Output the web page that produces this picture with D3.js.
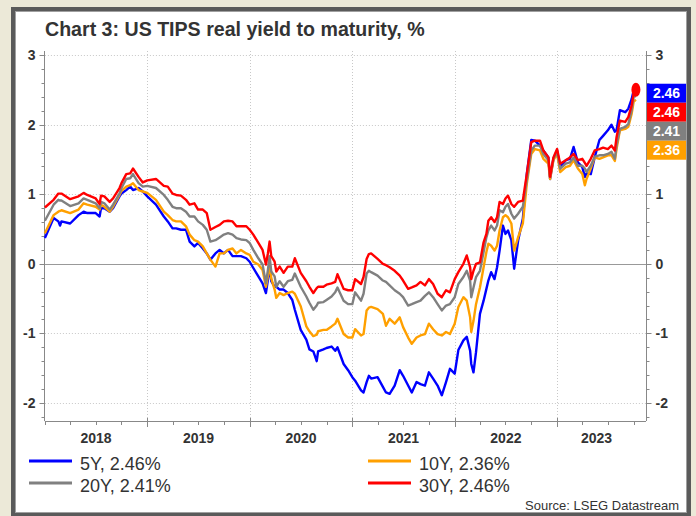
<!DOCTYPE html>
<html>
<head>
<meta charset="utf-8">
<script src="https://cdn.jsdelivr.net/npm/d3@7"></script>
<style>
  body { margin: 0; background: #ece9d8; }
  svg { display: block; font-family: "Liberation Sans", Arial, sans-serif; }
</style>
</head>
<body>
<div id="chart"></div>
<script>
const dates = [
  "2018-01-01","2018-02-01","2018-02-18","2018-02-24","2018-03-01","2018-04-01","2018-05-01","2018-05-19","2018-06-01","2018-07-01",
  "2018-07-15","2018-07-20","2018-08-01","2018-08-20","2018-09-01","2018-09-24","2018-10-01","2018-10-18","2018-11-01","2018-11-11",
  "2018-12-01","2018-12-16","2019-01-01","2019-02-01","2019-03-01","2019-03-15","2019-04-01","2019-04-14","2019-05-01","2019-05-19",
  "2019-06-01","2019-06-18","2019-07-01","2019-07-18","2019-08-01","2019-08-14","2019-09-01","2019-09-16","2019-10-01","2019-10-16",
  "2019-11-01","2019-11-15","2019-12-01","2019-12-20","2020-01-01","2020-01-14","2020-02-01","2020-02-16","2020-02-28","2020-03-06",
  "2020-03-12","2020-03-18","2020-03-30","2020-04-05","2020-04-17","2020-05-01","2020-05-16","2020-06-01","2020-06-10","2020-07-01",
  "2020-07-21","2020-08-01","2020-08-15","2020-08-27","2020-09-01","2020-09-20","2020-10-01","2020-10-19",
  "2020-11-01","2020-11-09","2020-12-01","2020-12-17","2021-01-01","2021-01-11","2021-02-01","2021-02-10","2021-02-21","2021-03-01",
  "2021-03-09","2021-04-01","2021-04-20","2021-05-01","2021-05-14","2021-06-01","2021-06-19","2021-07-01","2021-07-19","2021-08-01",
  "2021-08-18","2021-09-01","2021-09-17","2021-10-01","2021-10-16","2021-11-01","2021-11-16","2021-12-01","2021-12-15","2022-01-01",
  "2022-01-14","2022-02-01","2022-02-13","2022-02-25","2022-03-01","2022-03-09","2022-03-18","2022-04-01","2022-04-14","2022-04-24",
  "2022-05-01","2022-05-11","2022-05-23","2022-06-01","2022-06-10","2022-06-22","2022-07-01","2022-07-10","2022-07-22","2022-08-01",
  "2022-08-15","2022-09-01","2022-09-15","2022-10-01","2022-10-14","2022-11-01","2022-11-13","2022-12-01","2022-12-07","2022-12-19",
  "2023-01-01","2023-01-12","2023-02-01","2023-02-16","2023-03-01","2023-03-16","2023-04-01","2023-04-10","2023-04-16","2023-05-01",
  "2023-05-15","2023-06-01","2023-06-14","2023-07-01","2023-07-14","2023-07-26","2023-08-01","2023-08-13","2023-09-01","2023-09-12",
  "2023-09-24","2023-10-01","2023-10-09"
];

const y5 = [
  0.37,0.66,0.61,0.55,0.61,0.58,0.70,0.75,0.73,0.73, 0.68,0.80,0.80,0.75,0.80,0.97,1.01,1.06,1.11,1.06,
  1.09,1.04,0.97,0.85,0.68,0.61,0.51,0.51,0.49,0.49, 0.32,0.25,0.30,0.22,0.15,0.06,0.15,0.20,0.15,0.20,
  0.11,0.11,0.11,0.08,0.03,-0.06,-0.18,-0.28,-0.42,-0.23, -0.01,-0.25,-0.33,-0.33,-0.37,-0.37,-0.42,-0.52,-0.66,-0.95,
  -1.09,-1.23,-1.26,-1.40,-1.26,-1.23,-1.21,-1.19,
  -1.25,-1.20,-1.44,-1.53,-1.63,-1.68,-1.82,-1.85,-1.70,-1.61, -1.65,-1.63,-1.77,-1.85,-1.87,-1.75,-1.53,-1.61,-1.75,-1.85,
  -1.70,-1.73,-1.75,-1.56,-1.65,-1.75,-1.89,-1.70,-1.51,-1.58, -1.24,-1.10,-1.05,-1.25,-1.44,-1.56,-1.27,-0.72,-0.53,-0.36,
  -0.24,-0.12,-0.22,-0.05,0.19,0.55,0.43,0.48,0.34,-0.07, 0.33,0.65,1.29,1.78,1.77,1.70,1.63,1.53,1.22,1.51,
  1.63,1.39,1.49,1.51,1.68,1.46,1.39,1.25,1.30,1.29, 1.53,1.78,1.84,1.92,2.00,1.90,1.92,2.21,2.18,2.23,
  2.37,2.49,2.46
];

const y10 = [
  0.44,0.70,0.75,0.76,0.77,0.73,0.78,0.87,0.85,0.82, 0.78,0.85,0.82,0.75,0.82,0.99,1.05,1.11,1.13,1.16,
  1.06,1.04,1.02,0.92,0.75,0.70,0.63,0.61,0.61,0.54, 0.42,0.34,0.32,0.25,0.15,0.06,-0.04,0.15,0.15,0.20,
  0.22,0.15,0.20,0.15,0.13,0.03,-0.01,-0.09,-0.33,-0.18, 0.01,-0.21,-0.37,-0.49,-0.42,-0.45,-0.42,-0.40,-0.43,-0.61,
  -0.90,-0.97,-1.04,-1.02,-0.97,-0.95,-0.95,-0.90,
  -0.86,-0.79,-1.01,-1.06,-1.06,-0.94,-1.03,-1.01,-0.67,-0.63, -0.62,-0.65,-0.72,-0.89,-0.79,-0.86,-0.77,-0.91,-1.06,-1.15,
  -1.06,-1.03,-1.01,-0.86,-0.94,-1.01,-1.03,-0.98,-1.01,-0.86, -0.62,-0.48,-0.53,-0.77,-0.98,-0.82,-0.58,-0.34,-0.05,0.17,
  0.29,0.26,0.19,0.26,0.48,0.67,0.70,0.67,0.58,0.19, 0.38,0.58,1.15,1.58,1.65,1.63,1.51,1.44,1.22,1.49,
  1.58,1.32,1.39,1.41,1.49,1.37,1.29,1.13,1.22,1.37, 1.53,1.51,1.53,1.56,1.56,1.48,1.65,1.92,1.94,1.97,
  2.16,2.33,2.36
];

const y20 = [
  0.62,0.85,0.92,0.91,0.91,0.83,0.87,0.94,0.92,0.87, 0.80,0.89,0.87,0.78,0.85,1.01,1.09,1.22,1.23,1.29,
  1.16,1.11,1.12,1.09,0.99,0.92,0.82,0.80,0.80,0.75, 0.68,0.68,0.61,0.56,0.49,0.32,0.34,0.38,0.42,0.44,
  0.42,0.37,0.35,0.34,0.30,0.20,0.08,-0.01,-0.28,-0.09, 0.11,-0.11,-0.18,-0.33,-0.25,-0.33,-0.25,-0.23,-0.14,-0.33,
  -0.47,-0.56,-0.66,-0.60,-0.56,-0.55,-0.52,-0.47,
  -0.41,-0.34,-0.53,-0.58,-0.58,-0.41,-0.53,-0.43,-0.14,-0.10, -0.12,-0.17,-0.24,-0.26,-0.31,-0.38,-0.43,-0.48,-0.60,-0.58,
  -0.55,-0.53,-0.46,-0.41,-0.48,-0.58,-0.67,-0.60,-0.58,-0.48, -0.29,-0.19,-0.10,-0.24,-0.48,-0.34,-0.19,-0.10,0.17,0.38,
  0.48,0.55,0.48,0.55,0.77,0.74,0.82,0.86,0.72,0.65, 0.72,0.82,1.20,1.63,1.70,1.70,1.58,1.49,1.25,1.51,
  1.61,1.37,1.44,1.46,1.53,1.41,1.41,1.37,1.32,1.41, 1.54,1.56,1.56,1.58,1.61,1.51,1.70,1.94,1.97,2.01,
  2.21,2.40,2.41
];

const y30 = [
  0.81,0.92,1.01,1.01,1.01,0.93,0.97,1.02,0.99,0.94, 0.86,0.98,0.97,0.89,0.94,1.09,1.16,1.29,1.30,1.37,
  1.25,1.17,1.20,1.22,1.12,1.11,1.01,0.99,0.98,0.92, 0.85,0.87,0.78,0.78,0.73,0.49,0.53,0.56,0.61,0.62,
  0.61,0.54,0.54,0.54,0.49,0.42,0.30,0.20,-0.01,0.15, 0.32,0.11,0.03,-0.11,-0.04,-0.13,-0.04,-0.04,0.08,-0.13,
  -0.25,-0.33,-0.42,-0.35,-0.33,-0.33,-0.30,-0.28,
  -0.26,-0.15,-0.36,-0.38,-0.38,-0.22,-0.29,-0.19,0.07,0.14, 0.15,0.07,0.00,-0.02,-0.05,-0.10,-0.17,-0.24,-0.36,-0.34,
  -0.31,-0.26,-0.31,-0.22,-0.29,-0.43,-0.48,-0.38,-0.41,-0.22, -0.12,0.00,0.12,-0.05,-0.22,-0.10,0.00,0.02,0.31,0.43,
  0.62,0.67,0.60,0.67,0.89,0.86,0.94,0.98,0.86,0.82, 0.89,0.91,1.29,1.75,1.77,1.77,1.63,1.53,1.25,1.53,
  1.65,1.44,1.49,1.53,1.58,1.49,1.51,1.45,1.41,1.51, 1.63,1.65,1.67,1.65,1.70,1.63,1.82,2.06,2.04,2.11,
  2.28,2.45,2.46
];

const seriesNames = ["5Y", "10Y", "20Y", "30Y"];
const seriesColors = ["#0000ff", "#ffa000", "#808080", "#ff0000"];
const yTicks = [-2, -1, 0, 1, 2, 3];

const width = 696, height = 516;

const parse = d3.timeParse("%Y-%m-%d");
const series = [y5, y10, y20, y30].map((vals, i) => ({
  name: seriesNames[i],
  color: seriesColors[i],
  values: vals.map((v, j) => ({ date: parse(dates[j]), value: v }))
}));
const lastDate = parse(dates[dates.length - 1]);

const svg = d3.select("#chart").append("svg")
  .attr("width", width)
  .attr("height", height);

// outer frame
svg.append("rect").attr("width", width).attr("height", height).attr("fill", "#ece9d8");
svg.append("rect")
  .attr("x", 13).attr("y", 9).attr("width", 676).attr("height", 506)
  .attr("fill", "#fff").attr("stroke", "#5a5a5a").attr("stroke-width", 4);
svg.append("rect")
  .attr("x", 15.5).attr("y", 11.5).attr("width", 671).attr("height", 501)
  .attr("fill", "none").attr("stroke", "#a0a0a0").attr("stroke-width", 1);

svg.append("text")
  .attr("x", 45).attr("y", 36)
  .attr("font-size", 19.6).attr("font-weight", "bold").attr("fill", "#333")
  .text("Chart 3: US TIPS real yield to maturity, %");

const x = d3.scaleTime()
  .domain([parse("2018-01-01"), parse("2023-11-14")])
  .range([44.9, 646]);
const y = d3.scaleLinear()
  .domain([-2.26, 3.06])
  .range([421, 51]);

const x0 = x.range()[0], x1 = x.range()[1];
const yTop = y.range()[1], yBot = y.range()[0];

// value boxes on the right, stacked by value (5Y before 30Y when tied)
const ends = series.map(s => ({ name: s.name, color: s.color, value: s.values[s.values.length - 1].value }))
  .sort((a, b) => b.value - a.value || seriesNames.indexOf(a.name) - seriesNames.indexOf(b.name));
let prev = -Infinity;
ends.forEach(e => {
  e.cy = Math.max(y(e.value) + 0.5, prev + 19);
  prev = e.cy;
});
const boxTop = ends[0].cy - 9.5, boxBottom = ends[ends.length - 1].cy + 9.5;

// grid
const years = d3.timeYear.range(parse("2019-01-01"), x.domain()[1]);
svg.append("g").selectAll("line").data(years).join("line")
  .attr("x1", d => Math.round(x(d)) + 0.5).attr("x2", d => Math.round(x(d)) + 0.5)
  .attr("y1", yTop).attr("y2", yBot)
  .attr("stroke", "#c8c8c8").attr("stroke-dasharray", "1,2");
svg.append("g").selectAll("line").data(yTicks).join("line")
  .attr("x1", x0).attr("x2", x1)
  .attr("y1", d => Math.round(y(d)) + 0.5).attr("y2", d => Math.round(y(d)) + 0.5)
  .attr("stroke", d => d === 0 ? "#999" : "#c8c8c8")
  .attr("stroke-dasharray", d => d === 0 ? null : "1,2");

// y axes (left and right)
const minor = d3.range(-2.2, 3.01, 0.2).map(v => +v.toFixed(1));
function yAxis(xPos, dir) {
  const g = svg.append("g");
  g.append("line").attr("x1", xPos).attr("x2", xPos).attr("y1", yTop).attr("y2", yBot)
    .attr("stroke", "#888");
  g.selectAll(".mn").data(minor).join("line")
    .attr("x1", xPos).attr("x2", xPos + dir * 3)
    .attr("y1", d => Math.round(y(d)) + 0.5).attr("y2", d => Math.round(y(d)) + 0.5)
    .attr("stroke", "#888");
  g.selectAll(".mj").data(yTicks).join("line")
    .attr("x1", xPos).attr("x2", xPos + dir * 5)
    .attr("y1", d => Math.round(y(d)) + 0.5).attr("y2", d => Math.round(y(d)) + 0.5)
    .attr("stroke", "#888");
  // on the right, labels hidden behind the value boxes are left out
  const labels = dir > 0 ? yTicks.filter(v => y(v) < boxTop - 6 || y(v) > boxBottom + 6) : yTicks;
  g.selectAll("text").data(labels).join("text")
    .attr("x", xPos + dir * 9)
    .attr("y", d => y(d))
    .attr("dy", "0.36em")
    .attr("text-anchor", dir < 0 ? "end" : "start")
    .attr("font-size", 14).attr("font-weight", "bold").attr("fill", "#333")
    .text(d => d);
}
yAxis(44.5, -1);
yAxis(646.5, 1);

// x axis
const xg = svg.append("g");
xg.append("line").attr("x1", x0).attr("x2", x1).attr("y1", yBot + 0.5).attr("y2", yBot + 0.5)
  .attr("stroke", "#888");
const quarters = d3.timeMonth.every(3).range(parse("2018-01-01"), x.domain()[1]);
xg.selectAll(".q").data(quarters).join("line")
  .attr("x1", d => Math.round(x(d)) + 0.5).attr("x2", d => Math.round(x(d)) + 0.5)
  .attr("y1", yBot).attr("y2", yBot + 4)
  .attr("stroke", "#888");
xg.selectAll(".y").data(years).join("line")
  .attr("x1", d => Math.round(x(d)) + 0.5).attr("x2", d => Math.round(x(d)) + 0.5)
  .attr("y1", yBot - 3).attr("y2", yBot + 6)
  .attr("stroke", "#888");
const yearLabels = d3.timeYear.range(parse("2018-01-01"), x.domain()[1]);
xg.selectAll("text").data(yearLabels).join("text")
  .attr("x", d => (x(d) + x(d3.min([d3.timeYear.offset(d, 1), lastDate]))) / 2)
  .attr("y", 443)
  .attr("text-anchor", "middle")
  .attr("font-size", 14).attr("font-weight", "bold").attr("fill", "#333")
  .text(d => d.getFullYear());

// lines
const line = d3.line().x(d => x(d.date)).y(d => y(d.value));
svg.append("g").selectAll("path").data(series).join("path")
  .attr("d", d => line(d.values))
  .attr("fill", "none")
  .attr("stroke", d => d.color)
  .attr("stroke-width", 2.4)
  .attr("stroke-linejoin", "round");

// end marker
const last30 = series[3].values[series[3].values.length - 1];
svg.append("ellipse")
  .attr("cx", x(last30.date)).attr("cy", y(last30.value) - 3)
  .attr("rx", 4.5).attr("ry", 7)
  .attr("fill", "#ff0000");

const boxes = svg.append("g").selectAll("g").data(ends).join("g")
  .attr("transform", d => `translate(647,${d.cy - 9.5})`);
boxes.append("rect").attr("width", 39).attr("height", 19).attr("fill", d => d.color);
boxes.append("text")
  .attr("x", 19.5).attr("y", 14.5)
  .attr("text-anchor", "middle")
  .attr("font-size", 14).attr("font-weight", "bold").attr("fill", "#fff")
  .text(d => d.value.toFixed(2));

// legend
const legendPos = [[29, 461], [368, 461], [29, 483], [368, 483]];
const lg = svg.append("g").selectAll("g").data(series).join("g")
  .attr("transform", (d, i) => `translate(${legendPos[i][0]},${legendPos[i][1]})`);
lg.append("line").attr("x1", 0).attr("x2", 43).attr("y1", 0).attr("y2", 0)
  .attr("stroke", d => d.color).attr("stroke-width", 3);
lg.append("text")
  .attr("x", 51).attr("y", 9)
  .attr("font-size", 18).attr("fill", "#333")
  .text(d => `${d.name}, ${d.values[d.values.length - 1].value.toFixed(2)}%`);

svg.append("text")
  .attr("x", 679).attr("y", 510)
  .attr("text-anchor", "end")
  .attr("font-size", 13).attr("fill", "#333")
  .text("Source: LSEG Datastream");
</script>
</body>
</html>
